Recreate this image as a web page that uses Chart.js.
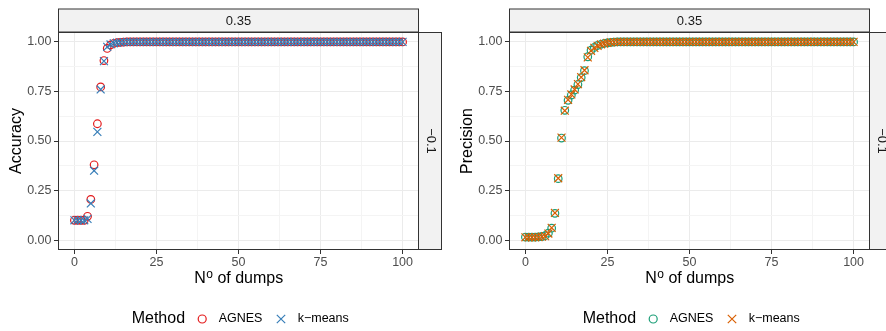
<!DOCTYPE html>
<html>
<head>
<meta charset="utf-8">
<script src="https://cdn.jsdelivr.net/npm/chart.js@4/dist/chart.umd.min.js"></script>
<style>
  html, body { margin: 0; padding: 0; background: #fff; }
  #wrap { width: 886px; height: 331px; display: flex; overflow: hidden; }
  canvas { display: block; }
</style>
</head>
<body>
<div id="wrap">
  <canvas id="acc" width="443" height="331"></canvas>
  <canvas id="prec" width="443" height="331"></canvas>
</div>
<script>
// x values (number of dumps)
var nDumps = [
  0,1,2,3,4,5,6,7,8,9,
  10,11,12,13,14,15,16,17,18,19,
  20,21,22,23,24,25,26,27,28,29,
  30,31,32,33,34,35,36,37,38,39,40,41,42,43,44,45,46,47,48,49,
  50,51,52,53,54,55,56,57,58,59,60,61,62,63,64,65,66,67,68,69,
  70,71,72,73,74,75,76,77,78,79,80,81,82,83,84,85,86,87,88,89,
  90,91,92,93,94,95,96,97,98,99,100
];

var accAgnes = [
  0.10,0.10,0.10,0.10,0.12,0.205,0.38,0.587,0.773,0.906,
  0.967,0.985,0.992,0.996,0.998,0.999,1,1,1,1,
  1,1,1,1,1,1,1,1,1,1,
  1,1,1,1,1,1,1,1,1,1,1,1,1,1,1,1,1,1,1,1,
  1,1,1,1,1,1,1,1,1,1,1,1,1,1,1,1,1,1,1,1,
  1,1,1,1,1,1,1,1,1,1,1,1,1,1,1,1,1,1,1,1,
  1,1,1,1,1,1,1,1,1,1,1
];
var accKmeans = [
  0.10,0.10,0.10,0.10,0.107,0.185,0.35,0.546,0.76,0.903,
  0.975,0.987,0.993,0.996,0.998,0.999,1,1,1,1,
  1,1,1,1,1,1,1,1,1,1,
  1,1,1,1,1,1,1,1,1,1,1,1,1,1,1,1,1,1,1,1,
  1,1,1,1,1,1,1,1,1,1,1,1,1,1,1,1,1,1,1,1,
  1,1,1,1,1,1,1,1,1,1,1,1,1,1,1,1,1,1,1,1,
  1,1,1,1,1,1,1,1,1,1,1
];
var precAgnes = [
  0.015,0.015,0.015,0.015,0.016,0.018,0.022,0.035,0.06,0.135,
  0.31,0.515,0.655,0.705,0.732,0.757,0.785,0.82,0.855,0.925,
  0.958,0.972,0.982,0.988,0.992,0.995,0.998,0.999,1,1,
  1,1,1,1,1,1,1,1,1,1,1,1,1,1,1,1,1,1,1,1,
  1,1,1,1,1,1,1,1,1,1,1,1,1,1,1,1,1,1,1,1,
  1,1,1,1,1,1,1,1,1,1,1,1,1,1,1,1,1,1,1,1,
  1,1,1,1,1,1,1,1,1,1,1
];
var precKmeans = [
  0.014,0.014,0.014,0.014,0.015,0.017,0.02,0.033,0.062,0.137,
  0.312,0.517,0.653,0.708,0.735,0.76,0.787,0.822,0.857,0.922,
  0.955,0.97,0.98,0.987,0.991,0.995,0.998,0.999,1,1,
  1,1,1,1,1,1,1,1,1,1,1,1,1,1,1,1,1,1,1,1,
  1,1,1,1,1,1,1,1,1,1,1,1,1,1,1,1,1,1,1,1,
  1,1,1,1,1,1,1,1,1,1,1,1,1,1,1,1,1,1,1,1,
  1,1,1,1,1,1,1,1,1,1,1
];

var xMajor = [0, 25, 50, 75, 100];
var xMinor = [12.5, 37.5, 62.5, 87.5];
var yMajor = [0, 0.25, 0.5, 0.75, 1];
var yMinor = [0.125, 0.375, 0.625, 0.875];
var colStrip = '0.35';
var rowStrip = '\u22120.1';
var methods = ['AGNES', 'k\u2212means'];

var FONT = "'Liberation Sans', Arial, sans-serif";

function isIn(v, list) {
  return list.some(function(m) { return Math.abs(m - v) < 1e-9; });
}

function toPoints(ys) {
  return nDumps.map(function(x, i) { return {x: x, y: ys[i]}; });
}

// strips, panel border, x title with superscript and legend, ggplot style
var facetPlugin = {
  id: 'facet',
  afterDraw: function(chart) {
    var ctx = chart.ctx, a = chart.chartArea;
    var o = chart.options.plugins.facet;
    ctx.save();
    ctx.fillStyle = '#F2F2F2';
    ctx.strokeStyle = '#333333';
    ctx.lineWidth = 1;
    // top strip
    ctx.fillRect(a.left, 9, a.right - a.left, a.top - 9);
    ctx.strokeRect(a.left + 0.5, 9, a.right - a.left - 1, a.top - 9);
    // right strip
    ctx.fillRect(a.right, a.top, 23, a.bottom - a.top);
    ctx.strokeRect(a.right - 0.5, a.top + 0.5, 23, a.bottom - a.top - 1);
    // panel border
    ctx.strokeRect(a.left + 0.5, a.top + 0.5, a.right - a.left - 1, a.bottom - a.top - 1);

    ctx.fillStyle = '#1A1A1A';
    ctx.font = '13px ' + FONT;
    ctx.textAlign = 'center';
    ctx.textBaseline = 'middle';
    ctx.fillText(colStrip, (a.left + a.right) / 2, (9 + a.top) / 2 + 0.5);
    ctx.save();
    ctx.translate(a.right + 11.5, (a.top + a.bottom) / 2);
    ctx.rotate(Math.PI / 2);
    ctx.fillText(rowStrip, 0, 0);
    ctx.restore();

    // x axis title: N with superscript o
    ctx.fillStyle = '#000';
    ctx.textAlign = 'left';
    ctx.textBaseline = 'alphabetic';
    ctx.font = '16px ' + FONT;
    var wN = ctx.measureText('N').width, wRest = ctx.measureText(' of dumps').width;
    ctx.font = '12px ' + FONT;
    var wO = ctx.measureText('o').width;
    var tx = (a.left + a.right) / 2 - (wN + wO + wRest) / 2, ty = 283.3;
    ctx.font = '16px ' + FONT;
    ctx.fillText('N', tx, ty);
    ctx.fillText(' of dumps', tx + wN + wO + 0.5, ty);
    ctx.font = '12px ' + FONT;
    ctx.fillText('o', tx + wN + 0.5, ty - 5.6);

    // legend
    var ly = 319, lx = a.left;
    ctx.textBaseline = 'middle';
    ctx.font = '16px ' + FONT;
    ctx.fillText('Method', lx + 73.7, ly);
    ctx.font = '12.5px ' + FONT;
    ctx.fillText(methods[0], lx + 160.7, ly);
    ctx.fillText(methods[1], lx + 239.7, ly);
    ctx.lineWidth = 1.2;
    ctx.strokeStyle = o.colors[0];
    ctx.beginPath();
    ctx.arc(lx + 144.2, ly, 4, 0, Math.PI * 2);
    ctx.stroke();
    ctx.strokeStyle = o.colors[1];
    ctx.beginPath();
    ctx.moveTo(lx + 223 - 4.2, ly - 4.2); ctx.lineTo(lx + 223 + 4.2, ly + 4.2);
    ctx.moveTo(lx + 223 - 4.2, ly + 4.2); ctx.lineTo(lx + 223 + 4.2, ly - 4.2);
    ctx.stroke();
    ctx.restore();
  }
};

function makePanel(id, yTitle, agnes, kmeans, colors, yWidth, titlePad, padRight) {
  return new Chart(document.getElementById(id), {
    type: 'scatter',
    data: {
      datasets: [
        {
          label: methods[0], data: toPoints(agnes), order: 2,
          pointStyle: 'circle', pointRadius: 3.8, pointHoverRadius: 3.8,
          borderColor: colors[0], backgroundColor: 'rgba(0,0,0,0)', borderWidth: 1.2
        },
        {
          label: methods[1], data: toPoints(kmeans), order: 1,
          pointStyle: 'crossRot', pointRadius: 5.6, pointHoverRadius: 5.6,
          borderColor: colors[1], backgroundColor: colors[1], borderWidth: 1.2
        }
      ]
    },
    options: {
      responsive: false,
      animation: false,
      devicePixelRatio: 1,
      layout: { padding: { left: 0, right: padRight, top: 32, bottom: 31 } },
      plugins: {
        legend: { display: false },
        tooltip: { enabled: false },
        facet: { colors: colors }
      },
      scales: {
        x: {
          type: 'linear', min: -5, max: 105,
          afterFit: function(s) { s.height = 50; },
          afterBuildTicks: function(s) {
            s.ticks = xMajor.concat(xMinor).sort(function(p, q) { return p - q; })
              .map(function(v) { return {value: v}; });
          },
          border: { display: false },
          grid: {
            color: function(c) { return c.tick && isIn(c.tick.value, xMajor) ? '#EBEBEB' : '#F4F4F4'; },
            lineWidth: 1,
            tickLength: 4,
            tickColor: function(c) { return c.tick && isIn(c.tick.value, xMajor) ? '#333333' : 'rgba(0,0,0,0)'; }
          },
          ticks: {
            autoSkip: false, maxRotation: 0, padding: 1,
            color: '#4D4D4D', font: { family: FONT, size: 12.5 },
            callback: function(v) { return isIn(v, xMajor) ? String(v) : ''; }
          },
          title: { display: false }
        },
        y: {
          type: 'linear', min: -0.05, max: 1.05,
          afterFit: function(s) { s.width = yWidth; },
          afterBuildTicks: function(s) {
            s.ticks = yMajor.concat(yMinor).sort(function(p, q) { return p - q; })
              .map(function(v) { return {value: v}; });
          },
          border: { display: false },
          grid: {
            color: function(c) { return c.tick && isIn(c.tick.value, yMajor) ? '#EBEBEB' : '#F4F4F4'; },
            lineWidth: 1,
            tickLength: 4,
            tickColor: function(c) { return c.tick && isIn(c.tick.value, yMajor) ? '#333333' : 'rgba(0,0,0,0)'; }
          },
          ticks: {
            autoSkip: false, padding: 2.5,
            color: '#4D4D4D', font: { family: FONT, size: 12.5 },
            callback: function(v) { return isIn(v, yMajor) ? v.toFixed(2) : ''; }
          },
          title: {
            display: true, text: yTitle, color: '#000',
            font: { family: FONT, size: 16 }, padding: { top: titlePad, bottom: 0 }
          }
        }
      }
    },
    plugins: [facetPlugin]
  });
}

makePanel('acc', 'Accuracy', accAgnes, accKmeans, ['#E41A1C', '#377EB8'], 58, 7.4, 24);
makePanel('prec', 'Precision', precAgnes, precKmeans, ['#1B9E77', '#D95F02'], 66, 15, 16);
</script>
</body>
</html>
